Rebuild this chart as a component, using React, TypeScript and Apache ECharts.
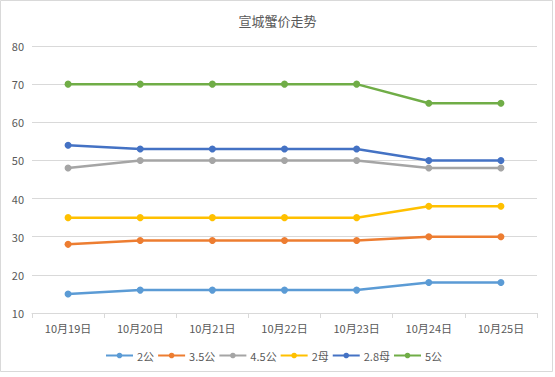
import React, { useEffect, useRef } from "react";
import * as echarts from "echarts";

const categories = ["10月19日", "10月20日", "10月21日", "10月22日", "10月23日", "10月24日", "10月25日"];
const seriesNames = ["2公", "3.5公", "4.5公", "2母", "2.8母", "5公"];
const s2gong = [15, 16, 16, 16, 16, 18, 18];
const s35gong = [28, 29, 29, 29, 29, 30, 30];
const s45gong = [48, 50, 50, 50, 50, 48, 48];
const s2mu = [35, 35, 35, 35, 35, 38, 38];
const s28mu = [54, 53, 53, 53, 53, 50, 50];
const s5gong = [70, 70, 70, 70, 70, 65, 65];
const colors = ["#5B9BD5", "#ED7D31", "#A5A5A5", "#FFC000", "#4472C4", "#70AD47"];
const title = "宣城蟹价走势";

export default function App() {
  const ref = useRef<HTMLDivElement>(null);
  useEffect(() => {
    if (!ref.current) return;
    const chart = echarts.init(ref.current, null, { renderer: "svg" });
    const data = [s2gong, s35gong, s45gong, s2mu, s28mu, s5gong];
    const font = "'Noto Sans CJK SC', 'Microsoft YaHei', sans-serif";
    chart.setOption({
      animation: false,
      backgroundColor: "#ffffff",
      textStyle: { fontFamily: font },
      title: {
        text: title,
        left: "center",
        top: 9,
        textStyle: { fontSize: 13, fontWeight: "normal", color: "#595959", fontFamily: font },
      },
      graphic: [
        {
          type: "rect",
          shape: { x: 0.5, y: 0.5, width: 552, height: 371 },
          style: { fill: "none", stroke: "#d9d9d9", lineWidth: 1 },
          silent: true,
        },
      ],
      legend: {
        left: 105,
        top: 350,
        padding: 0,
        itemWidth: 27,
        itemHeight: 7,
        itemGap: 3,
        textStyle: { fontSize: 11, color: "#595959", fontFamily: font, padding: [0, 0, 0, -1] },
        data: seriesNames,
      },
      grid: { left: 32, right: 18, top: 46, bottom: 64, containLabel: false },
      xAxis: {
        type: "category",
        data: categories,
        boundaryGap: true,
        axisLine: { lineStyle: { color: "#d9d9d9" } },
        axisTick: { show: true, length: 5, lineStyle: { color: "#d9d9d9" } },
        axisLabel: { fontSize: 11, color: "#595959", margin: 9, fontFamily: font },
      },
      yAxis: {
        type: "value",
        min: 10,
        max: 80,
        interval: 10,
        axisLine: { show: false },
        axisTick: { show: false },
        splitLine: { lineStyle: { color: "#d9d9d9" } },
        axisLabel: { fontSize: 11, color: "#595959", margin: 8, fontFamily: font },
      },
      series: seriesNames.map((name, i) => ({
        name,
        type: "line",
        data: data[i],
        symbol: "circle",
        symbolSize: 7,
        showSymbol: true,
        lineStyle: { width: 2.5, color: colors[i] },
        itemStyle: { color: colors[i] },
      })),
    });
    return () => chart.dispose();
  }, []);
  return <div ref={ref} style={{ width: 555, height: 377, position: "absolute", left: 0, top: 0 }} />;
}
